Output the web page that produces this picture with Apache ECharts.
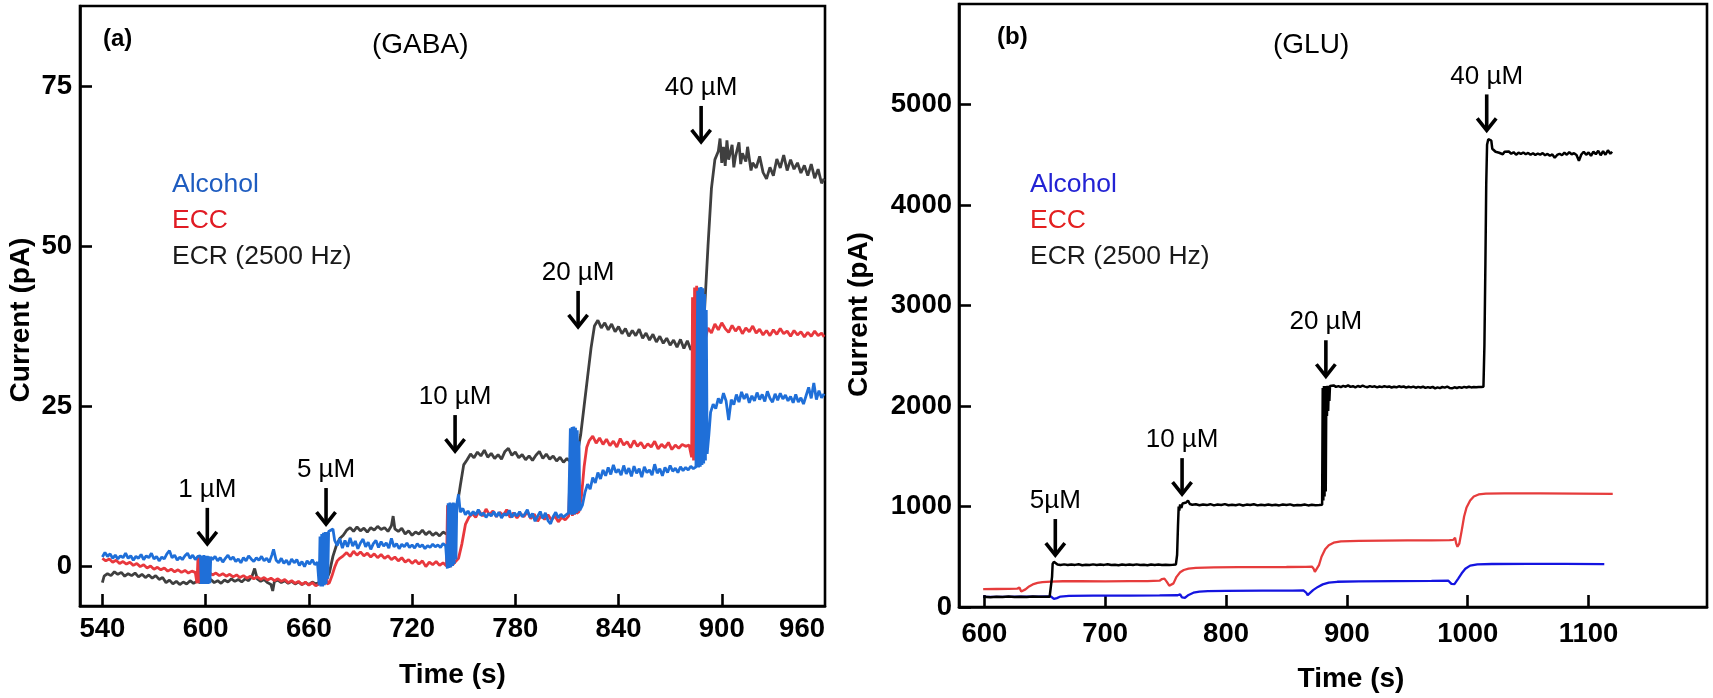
<!DOCTYPE html>
<html>
<head>
<meta charset="utf-8">
<script src="https://cdn.jsdelivr.net/npm/echarts@6/dist/echarts.min.js"></script>
<style>
html,body{margin:0;padding:0;background:#fff;}
#chart{width:1713px;height:698px;}
</style>
</head>
<body>
<div id="chart"></div>
<script>
// ---------- Panel (a) GABA : [time (s), current (pA)] ----------
const gabaECR = [[540,-2.6],[541,-1.6],[543,-1.2],[545,-1.5],[547,-0.9],[549,-1.3],[551,-1.0],[553,-1.6],[555,-1.2],[557,-1.5],[559,-1.1],[561,-1.7],[563,-1.3],[565,-1.8],[567,-1.4],[569,-1.9],[571,-1.5],[573,-2.1],[575,-1.8],[577,-2.6],[579,-2.2],[581,-2.8],[583,-2.4],[585,-2.9],[587,-2.5],[589,-2.8],[591,-2.3],[593,-2.7],[595,-2.4],[597,-2.6],[599,-2.2],[601,-2.5],[603,-2.1],[605,-2.6],[607,-2.3],[609,-2.7],[611,-2.2],[613,-2.5],[615,-2.0],[617,-2.4],[619,-2.1],[621,-2.5],[623,-2.0],[625,-2.3],[627,-1.6],[628.5,-0.4],[630,-2.0],[632,-2.4],[634,-2.1],[636,-2.6],[638,-2.9],[639,-3.9],[640,-2.4],[642,-2.2],[644,-2.6],[646,-2.3],[648,-2.7],[650,-2.4],[652,-2.8],[654,-2.5],[656,-2.9],[658,-2.6],[660,-2.9],[662,-2.5],[664,-2.8],[666,-2.6],[668,-2.7],[670,-2.2],[672,-1.0],[674,1.5],[676,3.2],[678,4.3],[680,4.8],[682,5.6],[684,6.0],[686,5.4],[688,6.1],[690,5.5],[692,5.9],[694,5.3],[696,6.0],[698,5.6],[700,6.2],[702,5.7],[704,6.0],[706,5.4],[708,6.3],[709,7.8],[710,5.8],[712,5.4],[714,5.9],[716,5.0],[718,5.5],[720,4.8],[722,5.3],[724,5.0],[726,5.6],[728,4.9],[730,5.4],[732,4.8],[734,5.2],[736,4.7],[738,5.3],[740,5.0],[742,5.2],[744,6.0],[746,9.0],[748,12.5],[750,15.8],[752,16.6],[754,17.5],[756,16.9],[758,17.8],[760,17.2],[762,18.1],[764,17.0],[766,17.6],[768,16.8],[770,17.4],[772,16.7],[774,17.9],[776,18.4],[778,17.3],[780,17.8],[782,16.9],[784,17.4],[786,16.6],[788,17.2],[790,16.5],[792,17.3],[794,17.9],[796,16.8],[798,17.5],[800,16.7],[802,17.2],[804,16.4],[806,17.0],[808,16.2],[810,16.8],[812,16.3],[814,16.6],[816,17.5],[818,20.5],[820,25.0],[822,29.5],[824,34.0],[826,37.5],[828,38.4],[830,37.2],[832,38.0],[834,36.9],[836,37.8],[838,36.6],[840,37.4],[842,36.3],[844,37.1],[846,35.9],[848,36.8],[850,36.0],[852,37.0],[854,35.6],[856,36.4],[858,35.3],[860,36.2],[862,35.0],[864,35.9],[866,34.8],[868,35.6],[870,34.5],[872,35.3],[874,34.2],[876,35.4],[878,34.0],[880,35.2],[882,33.8],[884,34.6],[886,35.0],[888,36.5],[890,40.0],[892,50.0],[894,59.0],[896,63.5],[898,64.8],[899,66.8],[900,63.0],[901,65.5],[902,62.5],[903,66.5],[904,63.5],[906,65.8],[907,62.3],[908,64.0],[910,66.2],[911,62.8],[912,64.5],[914,63.2],[915,65.5],[917,61.8],[918,63.0],[920,62.2],[922,64.0],[924,61.5],[926,60.5],[928,62.3],[930,61.0],[932,63.6],[934,62.2],[936,64.2],[938,61.8],[940,63.5],[942,62.0],[944,63.0],[946,61.4],[948,62.6],[950,61.0],[952,62.8],[954,60.6],[956,62.0],[958,59.8],[959.5,60.5]];

const gabaECC = [[540,1.2],[542,0.8],[544,1.1],[546,0.6],[548,0.9],[550,0.4],[552,0.7],[554,0.3],[556,0.6],[558,0.1],[560,0.4],[562,-0.1],[564,0.2],[566,-0.3],[568,0.0],[570,-0.5],[572,-0.2],[574,-0.6],[576,-0.3],[578,-0.8],[580,-0.5],[582,-0.9],[584,-0.6],[586,-1.0],[588,-0.7],[590,-1.1],[592,-0.8],[594,-1.0],[595,-2.7],[595.6,1.5],[596.2,-2.7],[596.8,1.5],[597.4,-2.7],[598,1.3],[598.6,-2.5],[600,-1.2],[602,-1.0],[604,-1.4],[606,-1.1],[608,-1.5],[610,-1.2],[612,-1.6],[614,-1.3],[616,-1.7],[618,-1.4],[620,-1.8],[622,-1.5],[624,-1.9],[626,-1.6],[628,-2.0],[630,-1.7],[632,-2.1],[634,-1.8],[636,-2.2],[638,-1.9],[640,-2.3],[642,-2.0],[644,-2.4],[646,-2.1],[648,-2.6],[650,-2.3],[652,-2.7],[654,-2.4],[656,-2.9],[658,-2.5],[660,-3.0],[662,-2.6],[664,-3.1],[666,-2.8],[667,-3.0],[667.6,4.5],[668.2,-3.0],[668.8,4.8],[669.4,-2.9],[670,4.0],[670.6,-2.8],[672,-2.6],[673.5,-1.5],[675,-0.2],[676.5,0.8],[678,1.2],[680,1.6],[682,2.1],[684,1.5],[686,2.3],[688,1.7],[690,2.2],[692,1.6],[694,2.0],[696,1.4],[698,1.9],[700,1.3],[702,1.8],[704,1.2],[706,1.6],[708,1.0],[710,1.4],[712,0.8],[714,1.3],[716,0.6],[718,1.0],[720,0.4],[722,0.9],[724,0.3],[726,0.8],[728,-0.1],[730,0.6],[732,0.2],[734,0.7],[736,0.1],[738,0.5],[740,0.0],[740.6,9.5],[741.2,-0.3],[741.8,9.0],[742.4,-0.2],[743,8.5],[743.6,0.2],[745,0.6],[747,1.2],[749,3.5],[751,6.5],[753,7.6],[755,8.2],[757,7.6],[759,8.6],[761,7.8],[763,8.9],[765,8.0],[767,8.6],[769,7.7],[771,8.4],[773,7.9],[775,8.8],[777,7.6],[779,8.3],[781,7.5],[783,8.2],[785,7.7],[787,8.5],[789,7.4],[791,8.1],[793,7.0],[795,7.9],[797,7.3],[799,8.0],[801,7.2],[803,7.8],[805,6.9],[807,7.6],[809,7.2],[811,7.8],[812,7.6],[812.6,21.0],[813.2,7.8],[813.8,21.3],[814.4,8.0],[815,20.8],[815.6,8.2],[817,8.5],[818.5,11.0],[820,15.5],[821.5,18.5],[823,19.6],[825,20.3],[827,19.2],[829,20.0],[831,19.0],[833,19.8],[835,18.8],[837,19.5],[839,18.6],[841,19.9],[843,18.9],[845,19.4],[847,18.5],[849,19.6],[851,18.7],[853,19.3],[855,18.4],[857,19.1],[859,18.6],[861,19.5],[863,18.3],[865,19.0],[867,18.5],[869,19.3],[871,18.2],[873,18.9],[875,18.4],[877,19.0],[879,18.7],[881,18.9],[882.5,17.0],[883,42.0],[883.6,16.5],[884.2,43.5],[884.8,17.0],[885.4,43.8],[886,18.0],[886.6,43.0],[887.5,36.0],[889,30.5],[890.5,35.5],[892,37.2],[894,36.4],[896,37.8],[898,36.9],[900,38.0],[902,37.1],[904,36.5],[906,37.6],[908,36.7],[910,37.4],[912,36.3],[914,37.2],[916,36.6],[918,37.5],[920,36.4],[922,37.0],[924,36.1],[926,36.8],[928,36.0],[930,36.9],[932,36.2],[934,37.1],[936,36.3],[938,36.7],[940,35.9],[942,36.8],[944,36.1],[946,36.6],[948,35.8],[950,36.5],[952,35.9],[954,36.7],[956,36.0],[958,36.4],[959.5,35.8]];

const gabaAlcohol = [[540,1.4],[541.5,2.1],[543,1.5],[544.5,1.9],[546,1.2],[547.5,1.7],[549,1.1],[550.5,1.6],[552,1.3],[553.5,2.0],[555,1.2],[556.5,1.6],[558,0.9],[559.5,1.5],[561,1.2],[562.5,1.8],[564,1.0],[565.5,1.6],[567,1.3],[568.5,2.0],[570,1.1],[571.5,1.5],[573,0.8],[574.5,1.4],[576,1.1],[577.5,1.9],[579,2.4],[580.5,1.3],[582,1.7],[583.5,0.9],[585,1.4],[586.5,1.0],[588,1.6],[589.5,2.0],[591,1.2],[592.5,1.7],[594,1.0],[595.5,1.5],[597,1.6],[597.5,-2.8],[598,1.6],[598.5,-2.8],[599,1.7],[599.5,-2.8],[600,1.6],[600.5,-2.8],[601,1.6],[601.5,-2.8],[602,1.5],[602.5,-2.7],[603,1.4],[604,1.0],[605.5,1.5],[607,0.8],[608.5,1.3],[610,0.6],[611.5,1.2],[613,1.7],[614.5,1.0],[616,1.4],[617.5,0.7],[619,1.1],[620.5,0.5],[622,1.3],[623.5,0.8],[625,1.6],[626.5,1.1],[628,0.7],[629.5,1.3],[631,0.9],[632.5,1.5],[634,0.8],[635.5,1.2],[637,0.6],[638.5,1.7],[639.5,2.6],[641,0.9],[642.5,0.5],[644,1.2],[645.5,0.4],[647,0.9],[648.5,0.2],[650,1.1],[651.5,0.5],[653,1.0],[654.5,0.1],[656,0.7],[657.5,-0.1],[659,0.8],[660.5,0.3],[662,1.0],[663.5,0.2],[665,0.6],[666,-3.0],[666.5,4.6],[667,-3.2],[667.5,5.0],[668,-3.2],[668.5,5.2],[669,-3.0],[669.5,5.3],[670,-2.8],[670.5,5.3],[671,-2.0],[671.5,5.4],[672.5,5.6],[674,5.8],[675,4.0],[676.5,3.2],[678,4.3],[679.5,2.8],[681,4.0],[682.5,3.0],[684,4.4],[685.5,3.1],[687,3.9],[688.5,2.7],[690,3.6],[691.5,4.2],[693,3.0],[694.5,3.7],[696,2.6],[697.5,3.5],[699,4.0],[700.5,2.9],[702,3.8],[703.5,3.1],[705,3.6],[706.5,2.8],[708,4.3],[709.5,3.0],[711,3.5],[712.5,2.7],[714,3.4],[715.5,3.0],[717,3.6],[718.5,2.9],[720,3.3],[721.5,2.8],[723,3.5],[724.5,3.0],[726,3.3],[727.5,2.7],[729,3.2],[730.5,2.9],[732,3.4],[733.5,3.0],[735,3.3],[736.5,2.9],[738,3.5],[739.5,3.2],[740.5,-0.4],[741,9.8],[741.5,-0.3],[742,9.9],[742.5,-0.2],[743,9.8],[743.5,0.0],[744,9.9],[744.5,0.3],[745,9.8],[745.5,1.0],[746,9.7],[747,11.2],[748,8.4],[749.5,9.0],[751,8.0],[752.5,8.6],[754,7.9],[755.5,8.5],[757,8.0],[758.5,8.8],[760,7.9],[761.5,8.3],[763,7.6],[764.5,8.2],[766,7.8],[767.5,8.5],[769,7.7],[770.5,8.4],[772,7.5],[773.5,8.2],[775,7.9],[776.5,8.7],[778,7.6],[779.5,8.3],[781,7.8],[782.5,8.5],[784,7.7],[785.5,8.1],[787,8.8],[788.5,7.6],[790,8.2],[791.5,7.0],[793,7.8],[794.5,8.5],[796,7.4],[797.5,8.3],[799,7.1],[800.5,6.6],[802,7.7],[803.5,8.4],[805,7.5],[806.5,8.1],[808,7.6],[809.5,8.0],[811,8.3],[812,21.5],[812.5,8.0],[813,21.7],[813.5,8.0],[814,21.8],[814.5,8.1],[815,21.6],[815.5,8.3],[816,21.2],[816.5,8.5],[817,19.5],[817.5,8.7],[819,9.5],[820.5,11.5],[822,12.8],[823.5,12.0],[825,13.8],[826.5,13.0],[828,14.6],[829.5,13.6],[831,15.0],[832.5,14.1],[834,15.4],[835.5,14.3],[837,15.8],[838.5,14.6],[840,15.1],[841.5,14.2],[843,15.7],[844.5,14.4],[846,15.3],[847.5,14.0],[849,15.6],[850.5,14.5],[852,15.2],[853.5,13.9],[855,15.5],[856.5,14.6],[858,15.0],[859.5,14.2],[861,15.9],[862.5,14.5],[864,15.2],[865.5,14.1],[867,15.4],[868.5,14.6],[870,15.7],[871.5,14.8],[873,15.3],[874.5,14.6],[876,15.5],[877.5,14.9],[879,15.4],[880.5,15.0],[882,15.6],[883.5,15.2],[885,15.5],[886,43.0],[886.5,15.4],[887,43.5],[887.5,15.5],[888,43.6],[888.5,15.8],[889,43.4],[889.5,16.0],[890,42.5],[890.5,16.5],[891,40.0],[891.5,17.5],[892.5,20.5],[893.5,24.0],[895,25.3],[896.5,24.6],[898,26.2],[899.5,25.4],[901,27.0],[902.5,25.8],[904,22.8],[905.5,26.0],[907,25.2],[908.5,26.8],[910,25.6],[911.5,27.2],[913,26.1],[914.5,26.9],[916,25.5],[917.5,26.6],[919,25.8],[920.5,27.1],[922,26.0],[923.5,26.8],[925,25.7],[926.5,27.3],[928,26.2],[929.5,25.6],[931,26.9],[932.5,25.9],[934,27.0],[935.5,26.1],[937,26.7],[938.5,25.8],[940,26.5],[941.5,25.5],[943,26.8],[944.5,25.6],[946,26.3],[947.5,25.3],[949,26.6],[950.5,27.9],[952,26.2],[953.5,28.6],[955,26.0],[956.5,27.4],[958,26.3],[959.5,26.9]];

const gabaArrowLabels = ['1 µM','5 µM','10 µM','20 µM','40 µM'];
const gabaArrowTime = [601, 670, 745, 816.5, 888];
const gabaArrowTip = [3.3, 6.4, 17.8, 37.2, 66.1];

const gabaXTicks = [540,600,660,720,780,840,900];
const gabaXLabels = [540,600,660,720,780,840,900,960];
const gabaYTicks = [0,25,50,75];

// ---------- Panel (b) GLU : [time (s), current (pA)] ----------
const gluECR = [[599,102],[605,98],[610,103],[615,100],[620,104],[625,99],[630,102],[635,100],[640,104],[645,101],[650,103],[654,102],[655.5,110],[656,300],[656.5,430],[657.5,450],[659,448],[660.5,422],[663,418],[666,424],[669,417],[672,423],[675,419],[678,425],[681,416],[684,421],[687,418],[690,424],[693,417],[696,422],[699,419],[702,425],[705,418],[708,421],[711,416],[714,423],[717,419],[720,422],[723,417],[726,424],[729,418],[732,421],[735,416],[738,423],[741,419],[744,422],[747,417],[750,421],[753,418],[756,420],[758.5,424],[759.5,520],[760.2,800],[760.8,1000],[761.3,960],[762,1020],[763,985],[764,1030],[765.5,1020],[767,1040],[768.5,1060],[770,1025],[772,1018],[775,1022],[778,1012],[781,1020],[784,1014],[787,1023],[790,1011],[793,1019],[796,1015],[799,1024],[802,1012],[805,1018],[808,1013],[811,1021],[814,1010],[817,1019],[820,1014],[823,1022],[826,1011],[829,1018],[832,1013],[835,1020],[838,1012],[841,1017],[844,1011],[847,1019],[850,1014],[853,1021],[856,1010],[859,1016],[862,1012],[865,1019],[868,1011],[871,1017],[874,1013],[877,1015],[879.5,1018],[880,2180],[880.5,1060],[881,2200],[881.5,1100],[882,2190],[882.5,1150],[883,2200],[883.5,1900],[884,2200],[884.5,1950],[885,2190],[885.5,2050],[886,2200],[887.5,2195],[889,2205],[891,2190],[893,2198],[895,2188],[897,2200],[899,2192],[901,2205],[903,2190],[905,2197],[907,2186],[909,2199],[911,2191],[913,2202],[915,2193],[917,2187],[919,2198],[921,2190],[923,2196],[925,2185],[927,2194],[929,2188],[931,2197],[933,2190],[935,2195],[937,2184],[939,2192],[941,2186],[943,2196],[945,2189],[947,2194],[949,2183],[951,2191],[953,2185],[955,2193],[957,2182],[959,2190],[961,2184],[963,2192],[965,2180],[967,2188],[969,2182],[971,2190],[973,2175],[975,2185],[977,2178],[979,2189],[981,2183],[983,2192],[985,2180],[987,2176],[989,2186],[991,2179],[993,2188],[995,2181],[997,2190],[999,2184],[1001,2191],[1003,2185],[1005,2189],[1007,2186],[1009,2190],[1011,2188],[1013,2192],[1013.8,2600],[1014.6,3400],[1015.3,4200],[1016,4600],[1017,4655],[1018.5,4660],[1019.5,4640],[1020.3,4560],[1021.5,4545],[1023,4530],[1024.5,4548],[1026,4520],[1027.5,4535],[1029,4505],[1030.5,4530],[1032,4515],[1034,4532],[1036,4510],[1038,4525],[1040,4500],[1042,4520],[1044,4508],[1046,4522],[1048,4505],[1050,4518],[1052,4500],[1054,4515],[1056,4497],[1058,4512],[1060,4502],[1062,4516],[1064,4495],[1066,4508],[1068,4490],[1070,4503],[1072,4470],[1074,4498],[1076,4510],[1078,4495],[1080,4520],[1082,4500],[1084,4525],[1086,4505],[1088,4515],[1090,4498],[1092,4440],[1094,4502],[1096,4530],[1098,4500],[1100,4522],[1102,4490],[1104,4530],[1106,4505],[1108,4540],[1110,4495],[1112,4535],[1114,4500],[1116,4545],[1118,4510],[1119.5,4530]];

const gluECC = [[599,178],[610,179],[620,180],[627,182],[629,195],[630.5,155],[632,150],[634,175],[637,205],[640,225],[644,240],[648,248],[655,253],[665,256],[680,257],[700,255],[720,258],[735,257],[745,262],[747,278],[749,282],[751,250],[753,212],[754.5,205],[756.5,235],[759,300],[762,345],[765,368],[769,382],[775,390],[790,394],[810,396],[830,397],[850,398],[866,400],[871,402],[872.5,380],[873.5,350],[875,365],[877,420],[879,500],[882,575],[885,615],[889,640],[895,652],[910,658],[930,660],[950,662],[970,663],[985,665],[988,668],[989.5,690],[990.5,630],[991.5,600],[993,630],[995,760],[997,900],[999,990],[1002,1060],[1005,1100],[1009,1120],[1015,1128],[1030,1131],[1060,1130],[1090,1128],[1120,1126]];

const gluAlcohol = [[599,100],[615,101],[630,103],[645,104],[655,106],[656.5,110],[657.5,80],[658.5,66],[660,88],[663,104],[670,110],[690,113],[720,114],[745,115],[760,117],[762,126],[763.5,95],[764.5,82],[766,92],[769,120],[773,142],[778,153],[785,158],[800,160],[830,162],[855,163],[864,165],[865.5,178],[866.5,140],[867.5,118],[869,132],[872,168],[876,200],[880,225],[885,243],[892,251],[910,255],[940,258],[970,260],[984,262],[985.5,278],[986.5,230],[987.5,212],[989,228],[992,280],[995,335],[998,380],[1002,412],[1008,425],[1020,428],[1050,430],[1080,429],[1113,427]];

const gluArrowLabels = ['5µM','10 µM','20 µM','40 µM'];
const gluArrowTime = [658.7, 763.6, 882.6, 1015.7];
const gluArrowTip = [507, 1113, 2286, 4732];

const gluXTicks = [600,700,800,900,1000,1100];
const gluYTicks = [0,1000,2000,3000,4000,5000];

const seriesNames = ['Alcohol','ECC','ECR (2500 Hz)'];

// ---------- build chart ----------
const FONT = '"Liberation Sans", Arial, Helvetica, sans-serif';
const chart = echarts.init(document.getElementById('chart'), null, {renderer:'canvas'});
const plain = v => String(v);

function axisCommon(){
  return {
    axisLine:{show:true, onZero:false, lineStyle:{color:'#000', width:2.6}},
    splitLine:{show:false},
    nameTextStyle:{fontFamily:FONT, fontSize:28, fontWeight:'bold', color:'#000'}
  };
}
function tickStyle(vals){
  return {show:true, inside:true, length:12, lineStyle:{color:'#000', width:2.6}, customValues:vals};
}
function labelStyle(extra){
  return Object.assign({fontFamily:FONT, fontSize:27.5, fontWeight:'bold', color:'#000', formatter:plain}, extra);
}

function arrowRenderer(labels){
  return function(params, api){
    const p = api.coord([api.value(0), api.value(1)]);
    const x = p[0], y = p[1];
    return {
      type:'group',
      children:[
        {type:'line', shape:{x1:x, y1:y-37, x2:x, y2:y-2}, style:{stroke:'#000', lineWidth:3.6}},
        {type:'polyline', shape:{points:[[x-9.5,y-13],[x,y-1],[x+9.5,y-13]]}, style:{stroke:'#000', lineWidth:3.6, fill:null}},
        {type:'text', x:x, y:y-55, style:{text:labels[params.dataIndex], fill:'#000', font:'26px ' + FONT, align:'center', verticalAlign:'middle'}}
      ]
    };
  };
}

const gabaArrows = gabaArrowTime.map((t,i)=>[t, gabaArrowTip[i]]);
const gluArrows = gluArrowTime.map((t,i)=>[t, gluArrowTip[i]]);

const gabaColors = {line:['#1f6fd8','#e8383d','#3f3f3f'], text:['#1e5cc0','#e01b24','#1a1a1a']};
const gluColors = {line:['#1414e0','#e63c3c','#000000'], text:['#2323d4','#e32020','#1a1a1a']};

const option = {
  animation:false,
  backgroundColor:'#fff',
  title:[
    {text:'(a)', left:103, top:27, padding:0, textStyle:{fontFamily:FONT, fontSize:24, fontWeight:'bold', color:'#000', lineHeight:24}},
    {text:'(GABA)', left:372, top:31, padding:0, textStyle:{fontFamily:FONT, fontSize:28, fontWeight:'normal', color:'#000', lineHeight:28}},
    {text:'(b)', left:997, top:25, padding:0, textStyle:{fontFamily:FONT, fontSize:24, fontWeight:'bold', color:'#000', lineHeight:24}},
    {text:'(GLU)', left:1273, top:31, padding:0, textStyle:{fontFamily:FONT, fontSize:28, fontWeight:'normal', color:'#000', lineHeight:28}}
  ],
  legend:[
    {orient:'vertical', left:167, top:170, padding:0, itemGap:6, itemWidth:0, itemHeight:0, icon:'none', selectedMode:false,
     textStyle:{fontFamily:FONT, fontSize:26.5, lineHeight:30},
     data:seriesNames.map((n,i)=>({name:n, textStyle:{color:gabaColors.text[i]}}))},
    {orient:'vertical', left:1025, top:170, padding:0, itemGap:6, itemWidth:0, itemHeight:0, icon:'none', selectedMode:false,
     textStyle:{fontFamily:FONT, fontSize:26.5, lineHeight:30},
     data:seriesNames.map((n,i)=>({name:n, textStyle:{color:gluColors.text[i]}}))}
  ],
  grid:[
    {left:80, top:6, width:745, height:600, show:true, borderColor:'#000', borderWidth:2.6, containLabel:false},
    {left:959, top:4, width:748, height:604, show:true, borderColor:'#000', borderWidth:2.6, containLabel:false}
  ],
  xAxis:[
    Object.assign(axisCommon(), {
      gridIndex:0, type:'value', min:527, max:960,
      name:'Time (s)', nameLocation:'middle', nameGap:55,
      axisTick:tickStyle(gabaXTicks),
      axisLabel:labelStyle({margin:9, customValues:gabaXLabels, alignMaxLabel:'right'})
    }),
    Object.assign(axisCommon(), {
      gridIndex:1, type:'value', min:579, max:1198,
      name:'Time (s)', nameLocation:'middle', nameGap:58,
      nameTextStyle:{fontFamily:FONT, fontSize:28, fontWeight:'bold', color:'#000', padding:[0,0,0,36]},
      axisTick:tickStyle(gluXTicks),
      axisLabel:labelStyle({margin:13, customValues:gluXTicks})
    })
  ],
  yAxis:[
    Object.assign(axisCommon(), {
      gridIndex:0, type:'value', min:-6.25, max:87.5,
      name:'Current (pA)', nameLocation:'middle', nameGap:45, nameRotate:90,
      nameTextStyle:{fontFamily:FONT, fontSize:28, fontWeight:'bold', color:'#000', padding:[0,28,0,0]},
      axisTick:tickStyle(gabaYTicks),
      axisLabel:labelStyle({margin:8, customValues:gabaYTicks})
    }),
    Object.assign(axisCommon(), {
      gridIndex:1, type:'value', min:0, max:6000,
      name:'Current (pA)', nameLocation:'middle', nameGap:86, nameRotate:90,
      nameTextStyle:{fontFamily:FONT, fontSize:28, fontWeight:'bold', color:'#000', padding:[0,18,0,0]},
      axisTick:tickStyle(gluYTicks),
      axisLabel:labelStyle({margin:7, customValues:gluYTicks})
    })
  ],
  series:[
    {name:'ECR (2500 Hz)', type:'line', xAxisIndex:0, yAxisIndex:0, data:gabaECR, showSymbol:false, symbol:'none', lineStyle:{color:gabaColors.line[2], width:2.8}, itemStyle:{color:gabaColors.line[2]}, z:2},
    {name:'ECC', type:'line', xAxisIndex:0, yAxisIndex:0, data:gabaECC, showSymbol:false, symbol:'none', lineStyle:{color:gabaColors.line[1], width:2.8}, itemStyle:{color:gabaColors.line[1]}, z:3},
    {name:'Alcohol', type:'line', xAxisIndex:0, yAxisIndex:0, data:gabaAlcohol, showSymbol:false, symbol:'none', lineStyle:{color:gabaColors.line[0], width:2.8}, itemStyle:{color:gabaColors.line[0]}, z:4},
    {name:'Alcohol', type:'line', xAxisIndex:1, yAxisIndex:1, data:gluAlcohol, showSymbol:false, symbol:'none', lineStyle:{color:gluColors.line[0], width:2.3}, itemStyle:{color:gluColors.line[0]}, z:2},
    {name:'ECC', type:'line', xAxisIndex:1, yAxisIndex:1, data:gluECC, showSymbol:false, symbol:'none', lineStyle:{color:gluColors.line[1], width:2.3}, itemStyle:{color:gluColors.line[1]}, z:3},
    {name:'ECR (2500 Hz)', type:'line', xAxisIndex:1, yAxisIndex:1, data:gluECR, showSymbol:false, symbol:'none', lineStyle:{color:gluColors.line[2], width:2.5}, itemStyle:{color:gluColors.line[2]}, z:4},
    {name:'arrowsA', type:'custom', xAxisIndex:0, yAxisIndex:0, data:gabaArrows, renderItem:arrowRenderer(gabaArrowLabels), z:10, silent:true},
    {name:'arrowsB', type:'custom', xAxisIndex:1, yAxisIndex:1, data:gluArrows, renderItem:arrowRenderer(gluArrowLabels), z:10, silent:true}
  ]
};
chart.setOption(option);
</script>
</body>
</html>
